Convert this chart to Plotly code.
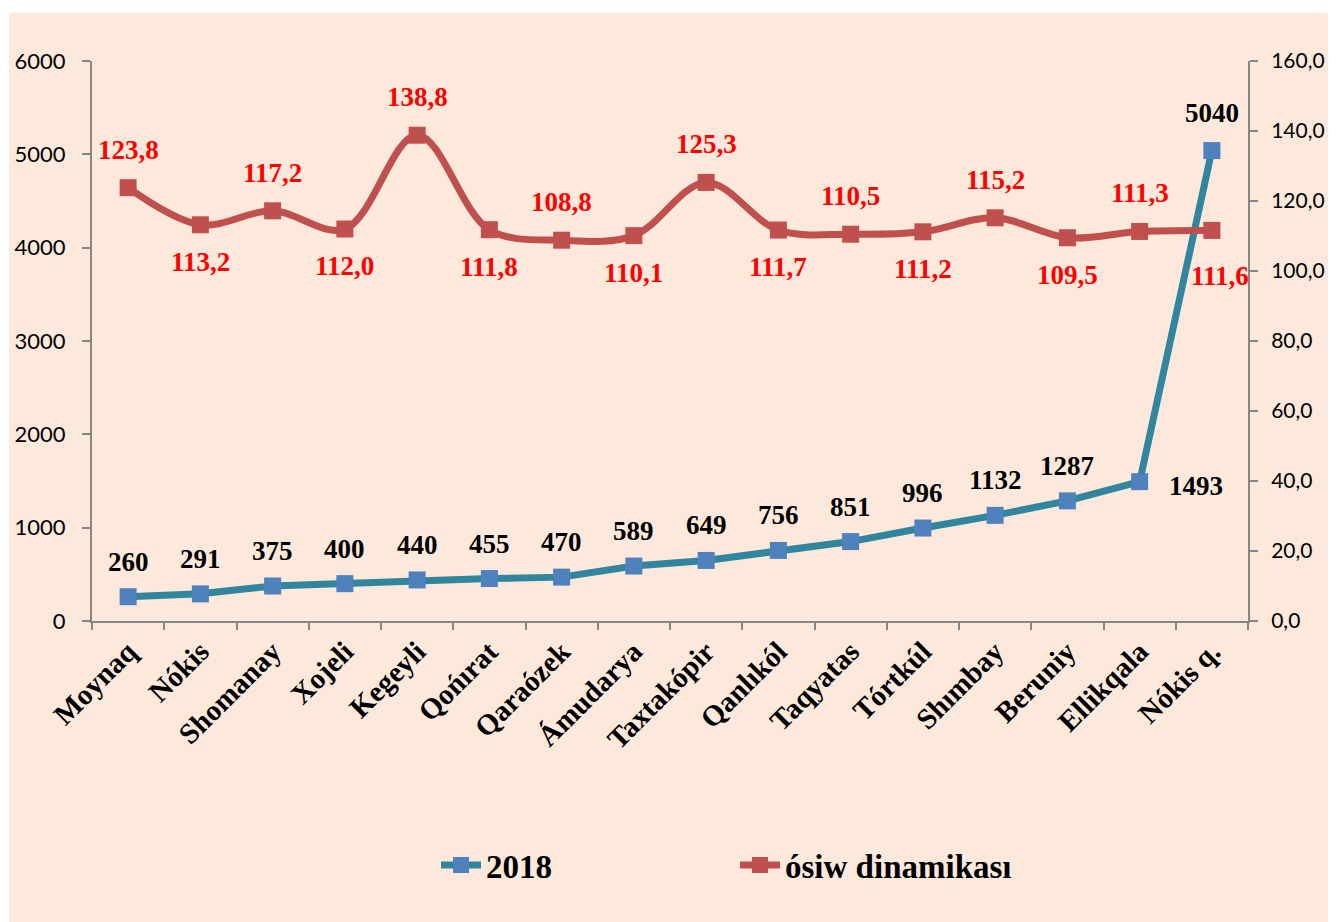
import plotly.graph_objects as go

# ===== DATA =====
districts = ["Moynaq", "Nókis", "Shomanay", "Xojeli", "Kegeyli", "Qońırat", "Qaraózek",
             "Ámudarya", "Taxtakópir", "Qanlıkól", "Taqyatas", "Tórtkúl", "Shımbay",
             "Beruniy", "Ellikqala", "Nókis q."]
values_2018 = [260, 291, 375, 400, 440, 455, 470, 589, 649, 756, 851, 996, 1132, 1287, 1493, 5040]
growth = [123.8, 113.2, 117.2, 112.0, 138.8, 111.8, 108.8, 110.1, 125.3, 111.7, 110.5,
          111.2, 115.2, 109.5, 111.3, 111.6]

# label placement: (xshift, yshift) in px relative to the marker
blue_offsets = [(0, 35)] * 14 + [(56, -4), (0, 38)]
red_offsets = [(0, 38) if i % 2 == 0 else (0, -37) for i in range(16)]
red_offsets[-1] = (8, -46)

BG = "#FDE9DB"
AXIS = "#868686"
SERIF = "Liberation Serif, Times New Roman, serif"
SANS = "Lato, Calibri, sans-serif"

fig = go.Figure()

fig.add_trace(go.Scatter(
    x=districts, y=values_2018, name="2018", mode="lines+markers",
    line=dict(color="#31859C", width=7),
    marker=dict(symbol="square", size=17, color="#4F81BD"),
))
fig.add_trace(go.Scatter(
    x=districts, y=growth, name="ósiw dinamikası", mode="lines+markers", yaxis="y2",
    line=dict(color="#C0504D", width=7, shape="spline", smoothing=1),
    marker=dict(symbol="square", size=17, color="#C0504D"),
))

# ===== DATA LABELS =====
annotations = []
for d, v, (dx, dy) in zip(districts, values_2018, blue_offsets):
    annotations.append(dict(x=d, y=v, xref="x", yref="y", text=str(v), showarrow=False,
                            xshift=dx, yshift=dy,
                            font=dict(family=SERIF, size=27, color="black", weight="bold")))
for d, v, (dx, dy) in zip(districts, growth, red_offsets):
    annotations.append(dict(x=d, y=v, xref="x", yref="y2", text=f"{v:.1f}".replace(".", ","),
                            showarrow=False, xshift=dx, yshift=dy,
                            font=dict(family=SERIF, size=27, color="#FF0000", weight="bold")))

fig.update_layout(
    width=1328, height=914,
    margin=dict(l=84, r=88, t=53, b=301),
    paper_bgcolor="white",
    plot_bgcolor="rgba(0,0,0,0)",
    separators=", ",
    showlegend=True,
    annotations=annotations,
    shapes=[dict(type="rect", xref="paper", yref="paper", x0=-0.0718, x1=1.08, y0=-0.54, y1=1.0857,
                 fillcolor=BG, line=dict(width=0), layer="below")],
    xaxis=dict(
        type="category", range=[-0.5, 15.5], showgrid=False, automargin=False,
        showline=True, linecolor=AXIS, linewidth=2,
        ticks="outside", tickson="boundaries", ticklen=7, tickcolor=AXIS, tickwidth=2,
        tickangle=-45,
        tickfont=dict(family=SERIF, size=29, color="black", weight="bold"),
    ),
    yaxis=dict(
        range=[0, 6000], dtick=1000, tickformat="d", showgrid=False, zeroline=False,
        automargin=False,
        showline=True, linecolor=AXIS, linewidth=2,
        ticks="outside", ticklen=8, tickcolor=AXIS, tickwidth=2, ticklabelstandoff=12,
        tickfont=dict(family=SANS, size=22, color="black"),
    ),
    yaxis2=dict(
        overlaying="y", side="right", range=[0, 160], dtick=20, tickformat=".1f",
        showgrid=False, zeroline=False, automargin=False,
        showline=True, linecolor=AXIS, linewidth=2,
        ticks="outside", ticklen=8, tickcolor=AXIS, tickwidth=2, ticklabelstandoff=9,
        tickfont=dict(family=SANS, size=21, color="black"),
    ),
    legend=dict(
        orientation="h", x=0.2976, xanchor="left", y=-0.436, yanchor="middle",
        bgcolor="rgba(0,0,0,0)", entrywidth=244, itemwidth=40,
        font=dict(family=SERIF, size=33, color="black", weight="bold"),
    ),
)

fig.write_html("out.html")
